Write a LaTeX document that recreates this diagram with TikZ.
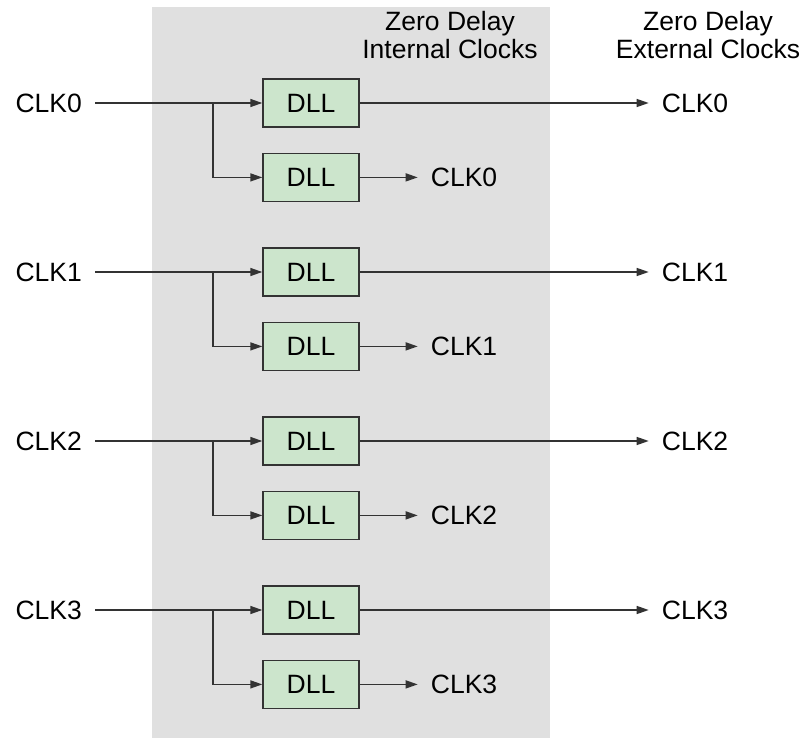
\documentclass[tikz,border=0pt]{standalone}
\usepackage{fontspec}
\setmainfont{Liberation Sans}
\usepackage{xcolor}
\usetikzlibrary{arrows.meta,positioning}
\definecolor{panelgray}{HTML}{E0E0E0}
\definecolor{dllgreen}{HTML}{CCE5CC}
\definecolor{wire}{HTML}{333333}
\tikzset{
  dll/.style={draw=wire, fill=dllgreen, line width=1.4pt, minimum width=96pt, minimum height=48pt, inner sep=0pt},
  clk/.style={inner xsep=13pt, inner ysep=0pt},
  head/.style={align=center},
  wireline/.style={draw=wire, line width=1.4pt},
  arrow/.style={wireline, -{Triangle[length=12pt,width=8pt]}},
}

\begin{document}
\begin{tikzpicture}[x=1pt, y=-1pt, font=\fontsize{26.5}{28}\selectfont]
\useasboundingbox (0,0) rectangle (807,747);
\fill[panelgray] (152,7) rectangle (550,738);
\node[head] (hint) at (450,35) {Zero Delay\\Internal Clocks};
\node[head] (hext) at (708,35) {Zero Delay\\External Clocks};
\foreach \i in {0,...,3}{
  \node[dll] (top\i) at (311,103+169*\i) {DLL};
  \node[dll, below=25pt of top\i] (bot\i) {DLL};
  \node[clk, anchor=east] (in\i) at (95,103+169*\i) {CLK\i};
  \coordinate (split\i) at (213,103+169*\i);
  \node[clk, right=289pt of top\i] (ext\i) {CLK\i};
  \node[clk, right=58pt of bot\i] (int\i) {CLK\i};
  \draw[wireline] (in\i) -- (split\i);
  \draw[arrow] (split\i) -- (top\i);
  \draw[arrow] (split\i) |- (bot\i);
  \draw[arrow] (top\i) -- (ext\i);
  \draw[arrow] (bot\i) -- (int\i);
}
\end{tikzpicture}
\end{document}
